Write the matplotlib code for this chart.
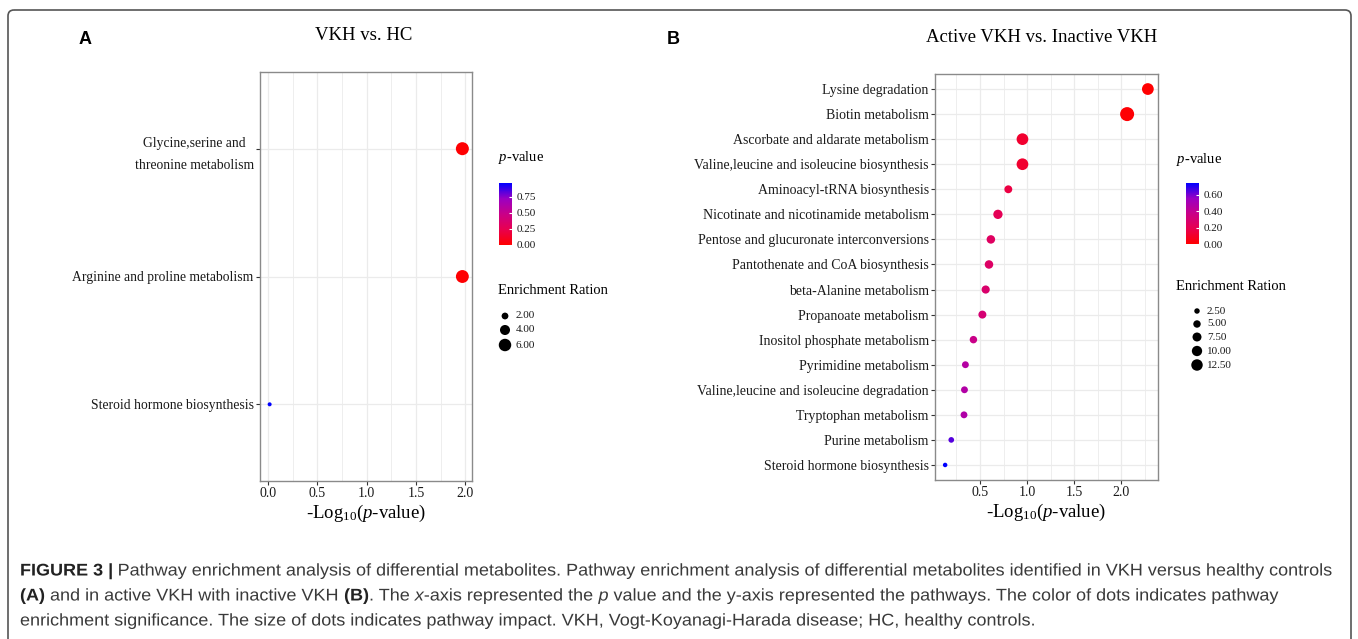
import numpy as np
import matplotlib
matplotlib.use('Agg')
import matplotlib.pyplot as plt
from matplotlib.colors import LinearSegmentedColormap, Normalize
from matplotlib.patches import FancyBboxPatch
from matplotlib.ticker import FormatStrFormatter
from matplotlib.transforms import Affine2D
import matplotlib.patheffects as pe

W, H = 1358, 639

# ---- data, panel A (VKH vs. HC), top to bottom
a_pathways = ['Glycine,serine and\nthreonine metabolism',
              'Arginine and proline metabolism',
              'Steroid hormone biosynthesis']
a_neglogp = [1.97, 1.97, 0.015]
a_enrich = [6.5, 6.4, 0.9]
a_xticks = [0.0, 0.5, 1.0, 1.5, 2.0]
a_pticks = [0.00, 0.25, 0.50, 0.75]
a_size_breaks = [2.0, 4.0, 6.0]

# ---- data, panel B (Active VKH vs. Inactive VKH), top to bottom
b_pathways = ['Lysine degradation', 'Biotin metabolism',
              'Ascorbate and aldarate metabolism',
              'Valine,leucine and isoleucine biosynthesis',
              'Aminoacyl-tRNA biosynthesis',
              'Nicotinate and nicotinamide metabolism',
              'Pentose and glucuronate interconversions',
              'Pantothenate and CoA biosynthesis',
              'beta-Alanine metabolism', 'Propanoate metabolism',
              'Inositol phosphate metabolism', 'Pyrimidine metabolism',
              'Valine,leucine and isoleucine degradation',
              'Tryptophan metabolism', 'Purine metabolism',
              'Steroid hormone biosynthesis']
b_neglogp = [2.28, 2.06, 0.95, 0.95, 0.80, 0.69, 0.615, 0.595,
             0.56, 0.525, 0.43, 0.345, 0.335, 0.33, 0.195, 0.13]
b_enrich = [9.4, 13.5, 9.3, 9.3, 4.0, 5.7, 4.7, 4.7,
            4.3, 4.1, 3.5, 2.9, 2.9, 2.9, 1.85, 1.0]
b_xticks = [0.5, 1.0, 1.5, 2.0]
b_pticks = [0.00, 0.20, 0.40, 0.60]
b_size_breaks = [2.5, 5.0, 7.5, 10.0, 12.5]

caption = [
    [('FIGURE 3 | ', 'bold', 'normal'),
     ('Pathway enrichment analysis of differential metabolites. Pathway enrichment '
      'analysis of differential metabolites identified in VKH versus healthy controls',
      'normal', 'normal')],
    [('(A)', 'bold', 'normal'), (' and in active VKH with inactive VKH ', 'normal', 'normal'),
     ('(B)', 'bold', 'normal'), ('. The ', 'normal', 'normal'), ('x', 'normal', 'italic'),
     ('-axis represented the ', 'normal', 'normal'), ('p', 'normal', 'italic'),
     (' value and the y-axis represented the pathways. The color of dots indicates pathway',
      'normal', 'normal')],
    [('enrichment significance. The size of dots indicates pathway impact. VKH, '
      'Vogt-Koyanagi-Harada disease; HC, healthy controls.', 'normal', 'normal')],
]

plt.rcParams['font.family'] = ['Liberation Serif', 'DejaVu Serif']
plt.rcParams['mathtext.fontset'] = 'custom'
plt.rcParams['mathtext.rm'] = 'Liberation Serif'
plt.rcParams['mathtext.it'] = 'Liberation Serif:italic'
plt.rcParams['mathtext.bf'] = 'Liberation Serif:bold'

# red -> blue, interpolated like ggplot (Lab)
cmap = LinearSegmentedColormap.from_list(
    'pv', ['#FF0000', '#E8004F', '#C90088', '#9A00C3', '#0000FF'])


class Squeeze(pe.AbstractPathEffect):
    # narrows text horizontally around x0 (display px), like a condensed face
    def __init__(self, sx, x0):
        super().__init__()
        self.sx, self.x0 = sx, x0

    def draw_path(self, renderer, gc, tpath, affine, rgbFace=None):
        t = affine + Affine2D().translate(-self.x0, 0).scale(self.sx, 1).translate(self.x0, 0)
        renderer.draw_path(gc, tpath, t, rgbFace)


def dot_size(v, vmin, vmax, dmin, dmax):
    # area scale, diameters given in px -> scatter s in pt^2
    v = np.asarray(v, dtype=float)
    d2 = dmin ** 2 + (v - vmin) / (vmax - vmin) * (dmax ** 2 - dmin ** 2)
    return d2 * 0.72 ** 2


def px_axes(l, t, r, b):
    return fig.add_axes([l / W, 1 - b / H, (r - l) / W, (b - t) / H])


def dot_panel(ax, names, x, enrich, dmin, dmax, xticks, lab_size):
    n = len(names)
    y = np.arange(n, 0, -1)
    p = 10 ** (-np.asarray(x))
    norm = Normalize(0, p.max())
    s = dot_size(enrich, min(enrich), max(enrich), dmin, dmax)
    sc = ax.scatter(x, y, s=s, c=p, cmap=cmap, norm=norm, edgecolors='none', zorder=3)
    lo, hi = min(x), max(x)
    pad = 0.05 * (hi - lo)
    ax.set_xlim(lo - pad, hi + pad)
    ax.set_ylim(0.4, n + 0.6)
    ax.set_xticks(xticks)
    ax.set_xticklabels(['%.1f' % t for t in xticks])
    ax.set_xticks(np.arange(0.25, hi + pad, 0.5), minor=True)
    ax.set_yticks(y)
    ax.set_yticklabels(names)
    ax.set_axisbelow(True)
    ax.grid(which='major', color='#ebebeb', lw=0.9)
    ax.grid(which='minor', axis='x', color='#ebebeb', lw=0.6)
    ax.tick_params(which='major', length=3, width=0.8, color='#333333',
                   labelcolor='#1a1a1a', pad=1.5)
    ax.tick_params(which='minor', length=0)
    ax.tick_params(axis='y', labelsize=lab_size)
    ax.tick_params(axis='x', labelsize=10)
    for lbl in ax.get_yticklabels():
        lbl.set_multialignment('center')
        lbl.set_linespacing(1.9)
    for sp in ax.spines.values():
        sp.set_color('#8a8a8a')
        sp.set_linewidth(1.0)
    return sc


def legends(ov, sc, box, pticks, breaks, enrich, dmin, dmax, shrink, tx, ty_p, ty_e, key_x, key_y, lab_x):
    ov.text(tx, ty_p, '$p$-value', fontsize=10.5, va='center', ha='left')
    cax = px_axes(*box)
    cb = fig.colorbar(sc, cax=cax, ticks=pticks)
    cb.outline.set_visible(False)
    cax.yaxis.set_major_formatter(FormatStrFormatter('%.2f'))
    cax.tick_params(length=2.5, width=0.8, color='white', direction='in',
                    labelsize=8, pad=3, labelcolor='#1a1a1a')
    ov.text(tx, ty_e, 'Enrichment Ration', fontsize=10.5, va='center', ha='left')
    s = dot_size(breaks, min(enrich), max(enrich), dmin, dmax) * shrink ** 2
    ov.scatter([key_x] * len(breaks), key_y, s=s, color='black', edgecolors='none')
    for b, yy in zip(breaks, key_y):
        ov.text(lab_x, yy, '%.2f' % b, fontsize=8, va='center', ha='left', color='#1a1a1a')


fig = plt.figure(figsize=(W / 100, H / 100), dpi=100)
fig.patch.set_facecolor('white')

ov = fig.add_axes([0, 0, 1, 1])
ov.set_xlim(0, W)
ov.set_ylim(H, 0)
ov.axis('off')

# panel A
ax_a = px_axes(260, 72, 472, 481)
sc_a = dot_panel(ax_a, a_pathways, a_neglogp, a_enrich, 4.0, 13.0, a_xticks, 9.8)
ax_a.set_xlabel(r'-Log$_{\mathregular{10}}$($p$-value)', fontsize=13.5, labelpad=2)
legends(ov, sc_a, (499, 183, 512, 245), a_pticks, a_size_breaks, a_enrich, 4.0, 13.0, 1.0,
        498, 158, 291, 505, [316, 330, 345], 516)

# panel B
ax_b = px_axes(935, 74, 1158, 480)
sc_b = dot_panel(ax_b, b_pathways, b_neglogp, b_enrich, 4.5, 14.0, b_xticks, 10)
ax_b.set_xlabel(r'-Log$_{\mathregular{10}}$($p$-value)', fontsize=13.5, labelpad=2)
legends(ov, sc_b, (1186, 183, 1199, 244), b_pticks, b_size_breaks, b_enrich, 4.5, 14.0, 0.85,
        1176, 160, 287, 1197, [311, 324, 337, 351, 365], 1207)

# titles and panel letters
ov.text(364, 35, 'VKH vs. HC', fontsize=13.5, ha='center', va='center')
ov.text(1042, 38, 'Active VKH vs. Inactive VKH', fontsize=13.5, ha='center', va='center')
ov.text(85, 40, 'A', fontsize=13, fontweight='bold', family='Liberation Sans', ha='center', va='center')
ov.text(673, 40, 'B', fontsize=13, fontweight='bold', family='Liberation Sans', ha='center', va='center')

# frame round the figure
ov.add_patch(FancyBboxPatch((8, 10), 1343, 650, boxstyle='round,pad=0,rounding_size=6',
                            fill=False, ec='#555555', lw=1.2))

# caption, drawn piece by piece in a condensed sans
cap_font = ['Liberation Sans']
cap_size = 12.2
cap_x0 = 20
renderer = fig.canvas.get_renderer()


def text_width(s, **kw):
    a = ov.text(0, 0, '|' + s + '|', **kw)
    b = ov.text(0, 0, '||', **kw)
    w = a.get_window_extent(renderer).width - b.get_window_extent(renderer).width
    a.remove()
    b.remove()
    return w


line1_w = sum(text_width(s, fontsize=cap_size, fontweight=wt, fontstyle=st, family=cap_font)
              for s, wt, st in caption[0])
squeeze = Squeeze(1315 / line1_w, cap_x0)

for row, yy in zip(caption, [571, 596, 621]):
    x = cap_x0
    for s, weight, style in row:
        col = '#222222' if weight == 'bold' else '#3a3a3a'
        ov.text(x, yy, s, fontsize=cap_size, fontweight=weight, fontstyle=style,
                family=cap_font, color=col, ha='left', va='center',
                path_effects=[squeeze])
        x += text_width(s, fontsize=cap_size, fontweight=weight, fontstyle=style, family=cap_font)

fig.savefig('out.png', dpi=100, facecolor='white')
